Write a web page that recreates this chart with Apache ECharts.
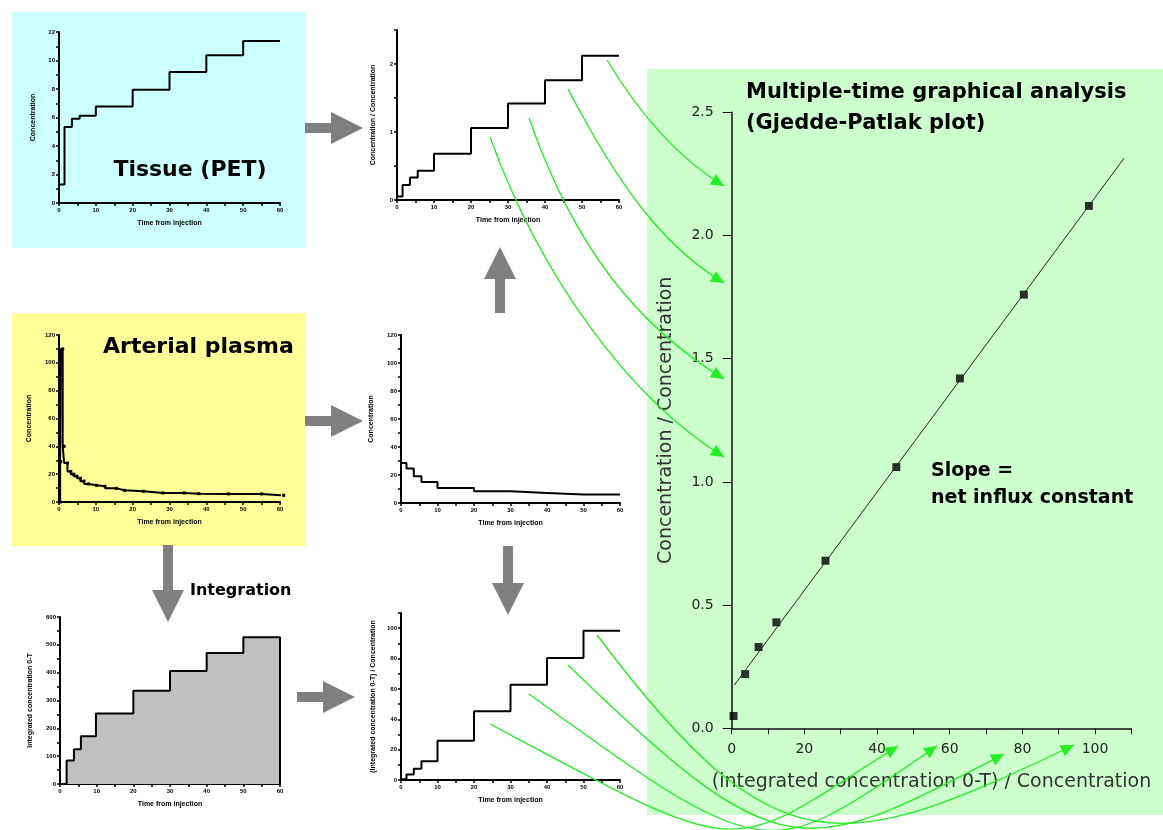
<!DOCTYPE html>
<html><head><meta charset="utf-8">
<script src="https://cdn.jsdelivr.net/npm/echarts@6/dist/echarts.min.js"></script>
<style>html,body{margin:0;padding:0;background:#fff}#c{width:1163px;height:830px}</style>
</head><body><div id="c"></div><script>
// ---- data ----
const frameTimes = [0, 1.5, 3.5, 5.6, 10, 20, 30, 40, 50, 60];           // frame boundaries (min)
const tissueConc = [1.3, 5.33, 5.92, 6.13, 6.78, 7.95, 9.19, 10.36, 11.37];
const plasmaFrameConc = [28.6, 24.6, 19.1, 15.0, 10.7, 8.4, 7.2, 6.0, 6.0];
const patlakX = [0.5, 3.7, 7.4, 12.3, 25.8, 45.3, 62.8, 80.4, 98.3];    // integral / plasma
const patlakY = [0.05, 0.22, 0.33, 0.43, 0.68, 1.06, 1.42, 1.76, 2.12]; // tissue / plasma
const plasmaSampleTimes = [0.3, 0.45, 1.0, 1.4, 2.3, 3.2, 4.0, 4.9, 5.8, 6.8, 8.0, 10.2, 12.5, 15.6, 17.8, 23.0, 28.2, 34.0, 38.0, 46.0, 55.0, 61.0];
const plasmaSampleConc  = [0, 29, 110, 40, 28, 22, 20, 18.5, 17, 15, 13, 12, 11.3, 9.8, 8.4, 7.7, 6.5, 6.5, 6.0, 5.8, 5.8, 4.8];
const integTimes = [1.8, 3.8, 5.7, 9.8, 20, 30, 40, 50, 60];
const integConc = [84, 125, 172, 253, 335, 406, 471, 527];
const fitX = [0.7, 108];
const fitY = [0.175, 2.314];

// ---- helpers ----
const FONT = '"Liberation Sans", Arial, sans-serif';
const WIDE = '"DejaVu Sans", Verdana, sans-serif';
function stepPairs(bounds, vals) {
  const out = vals.map((v, i) => [bounds[i], v]);
  out.push([bounds[vals.length], vals[vals.length - 1]]);
  return out;
}
function integPairs() {
  const out = [[integTimes[0], 0]];
  integConc.forEach((v, i) => out.push([integTimes[i], v]));
  out.push([integTimes[integTimes.length - 1], integConc[integConc.length - 1]]);
  out.push([integTimes[integTimes.length - 1], 0]);
  return out;
}
const tinyLabel = { fontSize: 6, fontWeight: 'bold', color: '#000', fontFamily: FONT };
const tinyName = { fontSize: 7, fontWeight: 'bold', color: '#000', fontFamily: FONT };
function tinyX(gi) {
  return { gridIndex: gi, type: 'value', min: 0, max: 60, interval: 10,
    axisLine: { onZero: false, lineStyle: { color: '#000', width: 2 } },
    axisTick: { length: 3, lineStyle: { color: '#000', width: 1.5 } },
    minorTick: { show: true, splitNumber: 2, length: 3, lineStyle: { color: '#000', width: 1.5 } },
    splitLine: { show: false }, minorSplitLine: { show: false },
    axisLabel: Object.assign({ margin: 4 }, tinyLabel),
    name: 'Time from injection', nameLocation: 'middle', nameGap: 17, nameTextStyle: tinyName };
}
function tinyY(gi, max, interval, minorSplit, name, fmt, gap) {
  return { gridIndex: gi, type: 'value', min: 0, max: max, interval: interval,
    axisLine: { show: true, onZero: false, lineStyle: { color: '#000', width: 2 } },
    axisTick: { show: true, length: 3, lineStyle: { color: '#000', width: 1.5 } },
    minorTick: { show: minorSplit > 1, splitNumber: minorSplit, length: 3, lineStyle: { color: '#000', width: 1.5 } },
    splitLine: { show: false }, minorSplitLine: { show: false },
    axisLabel: Object.assign({ margin: 4, formatter: fmt }, tinyLabel),
    name: name, nameLocation: 'middle', nameGap: gap, nameTextStyle: tinyName };
}
function stepSeries(xi, data, step, extra) {
  return Object.assign({ type: 'line', xAxisIndex: xi, yAxisIndex: xi, step: step, data: data,
    symbol: 'none', lineStyle: { color: '#000', width: 2 }, silent: true, animation: false }, extra || {});
}

// ---- decorations ----
const GREEN = '#22ee22';
function arrowHead(tip, from, len, half, color) {
  const dx = tip[0] - from[0], dy = tip[1] - from[1];
  const L = Math.hypot(dx, dy), ux = dx / L, uy = dy / L;
  const bx = tip[0] - ux * len, by = tip[1] - uy * len;
  return { type: 'polygon', z: 101, silent: true,
    shape: { points: [tip, [bx - uy * half, by + ux * half], [bx + uy * half, by - ux * half]] },
    style: { fill: color } };
}
function greenCurve(p0, c1, c2, p3) {
  return [
    { type: 'bezierCurve', z: 100, silent: true,
      shape: { x1: p0[0], y1: p0[1], cpx1: c1[0], cpy1: c1[1], cpx2: c2[0], cpy2: c2[1], x2: p3[0], y2: p3[1] },
      style: { stroke: GREEN, lineWidth: 1.3, fill: null } },
    arrowHead(p3, c2, 13, 6, GREEN)
  ];
}
function blockArrow(pts) {
  return { type: 'polygon', z: 50, silent: true, shape: { points: pts }, style: { fill: '#808080' } };
}
function rightArrow(x0, cy) {
  return blockArrow([[x0, cy - 5], [x0 + 26, cy - 5], [x0 + 26, cy - 16], [x0 + 58, cy], [x0 + 26, cy + 16], [x0 + 26, cy + 5], [x0, cy + 5]]);
}
function downArrow(cx, y0, y1) {
  return blockArrow([[cx - 5, y0], [cx + 5, y0], [cx + 5, y1 - 32], [cx + 16, y1 - 32], [cx, y1], [cx - 16, y1 - 32], [cx - 5, y1 - 32]]);
}
function upArrow(cx, y0, y1) {
  return blockArrow([[cx - 5, y1], [cx + 5, y1], [cx + 5, y0 + 32], [cx + 16, y0 + 32], [cx, y0], [cx - 16, y0 + 32], [cx - 5, y0 + 32]]);
}
function txt(text, x, y, size, align) {
  return { type: 'text', z: 60, silent: true, x: x, y: y,
    style: { text: text, font: 'bold ' + size + 'px ' + WIDE, fill: '#000', textAlign: align || 'left', textVerticalAlign: 'middle' } };
}

const graphics = [
  { type: 'rect', z: -10, silent: true, shape: { x: 12, y: 12, width: 293, height: 236 }, style: { fill: '#ccffff' } },
  { type: 'rect', z: -10, silent: true, shape: { x: 12, y: 313, width: 293, height: 233 }, style: { fill: '#ffff99' } },
  { type: 'rect', z: -10, silent: true, shape: { x: 647, y: 69, width: 516, height: 746 }, style: { fill: '#ccffcc' } },
  rightArrow(305, 128),
  rightArrow(305, 421),
  rightArrow(297, 697),
  upArrow(500, 247, 313),
  downArrow(508, 546, 615),
  downArrow(168, 545, 622),
  txt('Tissue (PET)', 190, 170, 22, 'center'),
  txt('Arterial plasma', 103, 347, 22),
  txt('Integration', 190, 591, 16),
  txt('Multiple-time graphical analysis', 746, 93, 21),
  txt('(Gjedde-Patlak plot)', 746, 124, 21),
  txt('Slope =', 931, 471, 19),
  txt('net influx constant', 931, 498, 19)
];
[
  [[490, 137], [541, 278], [630, 399], [724, 457]],
  [[529, 118], [575, 250], [639, 327], [724, 379]],
  [[568, 89], [619, 187], [664, 247], [724, 283]],
  [[607, 60], [643, 120], [681, 160], [724, 186]],
  [[490, 724], [754, 865], [723, 856], [898, 746]],
  [[529, 694], [772, 871], [767, 862], [937, 746]],
  [[568, 665], [784, 875], [804, 857], [1004, 754]],
  [[597, 635], [777, 875], [843, 855], [1074, 745]]
].forEach(c => greenCurve(c[0], c[1], c[2], c[3]).forEach(e => graphics.push(e)));

const intFmt = v => String(Math.round(v));
const option = {
  animation: false,
  backgroundColor: '#ffffff',
  textStyle: { fontFamily: FONT },
  grid: [
    { left: 59, top: 32, width: 221, height: 171 },
    { left: 59, top: 335, width: 221, height: 167 },
    { left: 60, top: 617, width: 220, height: 167 },
    { left: 397, top: 30, width: 222, height: 170 },
    { left: 401, top: 335, width: 219, height: 168 },
    { left: 401, top: 613, width: 219, height: 167 },
    { left: 731.7, top: 112.3, width: 399.7, height: 616 }
  ],
  xAxis: [
    tinyX(0), tinyX(1), tinyX(2), tinyX(3), tinyX(4), tinyX(5),
    { gridIndex: 6, type: 'value', min: 0, max: 110, interval: 10,
      axisLine: { onZero: false, lineStyle: { color: '#111', width: 1.5 } },
      axisTick: { length: 6, lineStyle: { color: '#111', width: 1 } },
      splitLine: { show: false },
      axisLabel: { fontSize: 14, color: '#222', margin: 14, fontFamily: WIDE, formatter: v => (v % 20 === 0 ? String(v) : '') },
      name: '(integrated concentration 0-T) / Concentration', nameLocation: 'middle', nameGap: 44,
      nameTextStyle: { fontSize: 19, color: '#333', fontFamily: WIDE } }
  ],
  yAxis: [
    tinyY(0, 12, 2, 2, 'Concentration', intFmt, 22),
    tinyY(1, 120, 20, 2, 'Concentration', intFmt, 26),
    tinyY(2, 600, 100, 2, 'Integrated concentration 0-T', intFmt, 26),
    tinyY(3, 2.5, 0.5, 1, 'Concentration / Concentration', v => (Math.abs(v - Math.round(v)) < 1e-6 ? String(Math.round(v)) : ''), 20),
    tinyY(4, 120, 20, 2, 'Concentration', intFmt, 26),
    tinyY(5, 110, 10, 1, '(Integrated concentration 0-T) / Concentration', v => (v % 20 === 0 ? String(v) : ''), 24),
    { gridIndex: 6, type: 'value', min: 0, max: 2.5, interval: 0.5,
      axisLine: { show: true, onZero: false, lineStyle: { color: '#111', width: 1.5 } },
      axisTick: { show: true, length: 9, lineStyle: { color: '#111', width: 1 } },
      splitLine: { show: false },
      axisLabel: { fontSize: 14, color: '#222', margin: 18, fontFamily: WIDE, formatter: v => v.toFixed(1) },
      name: 'Concentration / Concentration', nameLocation: 'middle', nameGap: 56,
      nameTextStyle: { fontSize: 19, color: '#333', fontFamily: WIDE } }
  ],
  series: [
    stepSeries(0, stepPairs(frameTimes, tissueConc), 'end'),
    stepSeries(1, plasmaSampleTimes.map((t, i) => [t, plasmaSampleConc[i]]), 'start',
      { symbol: 'rect', symbolSize: 3, itemStyle: { color: '#000' }, clip: false }),
    stepSeries(2, integPairs(), 'end', { areaStyle: { color: '#c0c0c0', opacity: 1, origin: 0 } }),
    stepSeries(3, stepPairs(frameTimes, patlakY), 'end'),
    stepSeries(4, stepPairs(frameTimes, plasmaFrameConc), 'end'),
    stepSeries(5, stepPairs(frameTimes, patlakX), 'end'),
    { type: 'line', xAxisIndex: 6, yAxisIndex: 6, data: fitX.map((x, i) => [x, fitY[i]]),
      symbol: 'none', lineStyle: { color: '#222', width: 1 }, silent: true },
    { type: 'scatter', xAxisIndex: 6, yAxisIndex: 6, data: patlakX.map((x, i) => [x, patlakY[i]]),
      symbol: 'rect', symbolSize: 8, itemStyle: { color: '#000' }, silent: true, clip: false }
  ],
  graphic: graphics
};
const chart = echarts.init(document.getElementById('c'), null, { renderer: 'canvas' });
chart.setOption(option);
</script></body></html>
